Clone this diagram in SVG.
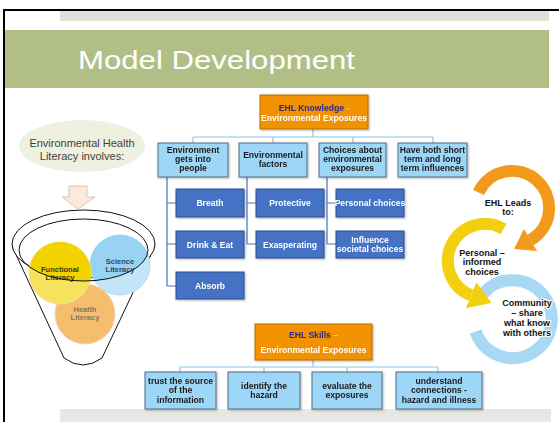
<svg xmlns="http://www.w3.org/2000/svg" width="559" height="422" viewBox="0 0 559 422">
  <style>
    .lbl { font-family: "Liberation Sans", Arial, sans-serif; font-weight: bold; font-size: 8.6px; text-anchor: middle; }
    .sm { font-size: 7.5px; }
    .dark { fill: #1a1a1a; }
    .white { fill: #ffffff; }
    .navy { fill: #2b2b8c; }
    .lb { fill: #9dd6f7; stroke: #4f6f86; stroke-width: 1; }
    .db { fill: #4472c4; stroke: #2f4f8f; stroke-width: 1; }
    .ob { fill: #f39200; stroke: #b86e00; stroke-width: 1; }
    .conn-lt { stroke: #8cc6e6; stroke-width: 1.2; fill: none; }
    .conn-dk { stroke: #4472c4; stroke-width: 1.2; fill: none; }
    .halo { stroke: #ffffff; stroke-width: 2.2; paint-order: stroke; stroke-linejoin: round; }
    .big { font-family: "Liberation Sans", Arial, sans-serif; font-weight: bold; font-size: 9px; text-anchor: middle; fill: #111; }
  </style>
  <defs>
    <clipPath id="funnelRim">
      <ellipse cx="83.5" cy="250" rx="64.5" ry="31"/>
    </clipPath>
    <filter id="sh" x="-10%" y="-10%" width="130%" height="140%">
      <feDropShadow dx="1" dy="1" stdDeviation="0.8" flood-color="#000" flood-opacity="0.3"/>
    </filter>
  </defs>

  <!-- page background and frame -->
  <rect x="0" y="0" width="559" height="422" fill="#ffffff"/>
  <line x1="4" y1="10" x2="559" y2="10" stroke="#000" stroke-width="2"/>
  <line x1="4" y1="9" x2="4" y2="422" stroke="#000" stroke-width="2"/>
  <rect x="60" y="11" width="489" height="10" fill="#dfe0d8"/>
  <rect x="5" y="30" width="544" height="58" fill="#b1bf86"/>
  <text x="78" y="69" font-family="Liberation Sans, Arial, sans-serif" font-size="26" fill="#ffffff" textLength="277" lengthAdjust="spacingAndGlyphs">Model Development</text>
  <rect x="60" y="409" width="491" height="13" fill="#e8e8e2"/>

  <!-- connectors -->
  <g id="connectors">
    <path class="conn-lt" d="M313 129V137M193 137H433M193 137V143M273 137V143M353 137V143M433 137V143"/>
    <path class="conn-dk" d="M167 177V286M167 203H176M167 244H176M167 286H176"/>
    <path class="conn-dk" d="M247 177V244M247 203H256M247 244H256"/>
    <path class="conn-dk" d="M327 177V244M327 203H336M327 244H336"/>
    <path class="conn-lt" d="M313 360V367M180 367H438M180 367V372M264 367V372M347 367V372M438 367V372"/>
  </g>

  <!-- knowledge tree -->
  <g id="ehl-knowledge" filter="url(#sh)">
    <rect class="ob" x="260" y="95" width="108" height="34"/>
    <text class="lbl" x="314" y="111"><tspan class="navy">EHL Knowledge</tspan><tspan fill="#f8c880"> -</tspan></text>
    <text class="lbl white" x="314" y="121">Environmental Exposures</text>
  </g>
  <g id="env-gets-into-people" filter="url(#sh)">
    <rect class="lb" x="158" y="143" width="70" height="34"/>
    <text class="lbl dark" x="193" y="153">Environment</text>
    <text class="lbl dark" x="193" y="162">gets into</text>
    <text class="lbl dark" x="193" y="171">people</text>
  </g>
  <g id="env-factors" filter="url(#sh)">
    <rect class="lb" x="239" y="143" width="68" height="34"/>
    <text class="lbl dark" x="273" y="158">Environmental</text>
    <text class="lbl dark" x="273" y="167">factors</text>
  </g>
  <g id="choices" filter="url(#sh)">
    <rect class="lb" x="319" y="143" width="67" height="34"/>
    <text class="lbl dark" x="352.5" y="153">Choices about</text>
    <text class="lbl dark" x="352.5" y="162">environmental</text>
    <text class="lbl dark" x="352.5" y="171">exposures</text>
  </g>
  <g id="short-long" filter="url(#sh)">
    <rect class="lb" x="398" y="143" width="69" height="34"/>
    <text class="lbl dark" x="432.5" y="153">Have both short</text>
    <text class="lbl dark" x="432.5" y="162">term and long</text>
    <text class="lbl dark" x="432.5" y="171">term influences</text>
  </g>
  <g id="breath" filter="url(#sh)">
    <rect class="db" x="176" y="189" width="68" height="28"/>
    <text class="lbl white" x="210" y="206">Breath</text>
  </g>
  <g id="drink-eat" filter="url(#sh)">
    <rect class="db" x="176" y="231" width="68" height="27"/>
    <text class="lbl white" x="210" y="247.5">Drink &amp; Eat</text>
  </g>
  <g id="absorb" filter="url(#sh)">
    <rect class="db" x="176" y="272" width="68" height="27"/>
    <text class="lbl white" x="210" y="288.5">Absorb</text>
  </g>
  <g id="protective" filter="url(#sh)">
    <rect class="db" x="256" y="189" width="68" height="28"/>
    <text class="lbl white" x="290" y="206">Protective</text>
  </g>
  <g id="exasperating" filter="url(#sh)">
    <rect class="db" x="256" y="231" width="68" height="27"/>
    <text class="lbl white" x="290" y="247.5">Exasperating</text>
  </g>
  <g id="personal-choices" filter="url(#sh)">
    <rect class="db" x="336" y="189" width="68" height="28"/>
    <text class="lbl white" x="370" y="206">Personal choices</text>
  </g>
  <g id="societal-choices" filter="url(#sh)">
    <rect class="db" x="336" y="231" width="68" height="27"/>
    <text class="lbl white" x="370" y="243">Influence</text>
    <text class="lbl white" x="370" y="252">societal choices</text>
  </g>

  <!-- skills tree -->
  <g id="ehl-skills" filter="url(#sh)">
    <rect class="ob" x="255" y="324" width="117" height="36"/>
    <text class="lbl" x="313.5" y="338"><tspan class="navy">EHL Skills</tspan><tspan fill="#f8c880"> –</tspan></text>
    <text class="lbl white" x="313.5" y="353">Environmental Exposures</text>
  </g>
  <g id="trust-source" filter="url(#sh)">
    <rect class="lb" x="145" y="372" width="71" height="37"/>
    <text class="lbl dark" x="180.5" y="384">trust the source</text>
    <text class="lbl dark" x="180.5" y="393">of the</text>
    <text class="lbl dark" x="180.5" y="403">information</text>
  </g>
  <g id="identify-hazard" filter="url(#sh)">
    <rect class="lb" x="228" y="372" width="72" height="37"/>
    <text class="lbl dark" x="264" y="389">identify the</text>
    <text class="lbl dark" x="264" y="398">hazard</text>
  </g>
  <g id="evaluate-exposures" filter="url(#sh)">
    <rect class="lb" x="312" y="372" width="70" height="37"/>
    <text class="lbl dark" x="347" y="389">evaluate the</text>
    <text class="lbl dark" x="347" y="398">exposures</text>
  </g>
  <g id="understand-connections" filter="url(#sh)">
    <rect class="lb" x="396" y="372" width="86" height="37"/>
    <text class="lbl dark" x="439" y="384">understand</text>
    <text class="lbl dark" x="439" y="393">connections -</text>
    <text class="lbl dark" x="439" y="403">hazard and illness</text>
  </g>

  <!-- literacy funnel -->
  <g id="ehl-involves">
    <ellipse cx="82" cy="146" rx="63" ry="26" fill="#eef1df"/>
    <text x="82" y="147" font-family="Liberation Sans, Arial, sans-serif" font-size="11" fill="#404040" text-anchor="middle">Environmental Health</text>
    <text x="82" y="160" font-family="Liberation Sans, Arial, sans-serif" font-size="11" fill="#404040" text-anchor="middle">Literacy involves:</text>
  </g>
  <g id="down-arrow">
    <path d="M69 186H87V197H95L78 209L62 197H69Z" fill="#fde8dc" stroke="#d9b8a8" stroke-width="0.8"/>
  </g>
  <g id="funnel">
    <path d="M12 246L64 358Q83 372 102 358L155 246" fill="#ffffff" stroke="#111" stroke-width="1"/>
    <ellipse cx="83.5" cy="244" rx="71.5" ry="34" fill="#ffffff" stroke="#111" stroke-width="1"/>
  </g>
  <g id="health-literacy">
    <circle cx="85" cy="314" r="30" fill="#f5be6c" stroke="#ecd9bf" stroke-width="1"/>
    <text class="lbl sm" x="85" y="312" fill="#8a7462">Health</text>
    <text class="lbl sm" x="85" y="320" fill="#8a7462">Literacy</text>
  </g>
  <g id="science-literacy">
    <circle cx="120" cy="265" r="30" fill="#c4e5f8" stroke="#b8d8ec" stroke-width="1"/>
    <circle cx="120" cy="265" r="30" fill="#98d3f4" clip-path="url(#funnelRim)"/>
    <text class="lbl sm" x="120" y="264" fill="#2c4560">Science</text>
    <text class="lbl sm" x="120" y="272" fill="#2c4560">Literacy</text>
  </g>
  <g id="functional-literacy">
    <circle cx="60" cy="273" r="31" fill="#f7e25e" stroke="#efe3a0" stroke-width="1"/>
    <circle cx="60" cy="273" r="31" fill="#f2d300" clip-path="url(#funnelRim)"/>
    <text class="lbl sm" x="60" y="272" fill="#3a3614">Functional</text>
    <text class="lbl sm" x="60" y="280" fill="#3a3614">Literacy</text>
  </g>
  <g id="funnel-rim">
    <ellipse cx="83.5" cy="250" rx="64.5" ry="31" fill="none" stroke="#111" stroke-width="1"/>
  </g>

  <!-- leads-to cycle -->
  <g id="community">
    <path d="M483.3 293.5A39 39 0 1 1 475.7 331.5" fill="none" stroke="#a8d8f4" stroke-width="12"/>
    <text class="big halo" x="527" y="306">Community</text>
    <text class="big halo" x="527" y="316">– share</text>
    <text class="big halo" x="527" y="326">what know</text>
    <text class="big halo" x="527" y="336">with others</text>
  </g>
  <g id="personal-informed">
    <path d="M503.5 229A37 37 0 1 0 471.1 295.3" fill="none" stroke="#f3d00f" stroke-width="12"/>
    <path d="M476.4 282.3L491.5 303L465.9 308.3Z" fill="#f3d00f"/>
    <text class="big halo" x="482" y="256">Personal –</text>
    <text class="big halo" x="482" y="265">informed</text>
    <text class="big halo" x="482" y="275">choices</text>
  </g>
  <g id="ehl-leads">
    <path d="M478.5 192.4A37 37 0 1 1 530.5 240" fill="none" stroke="#f39a1c" stroke-width="12"/>
    <path d="M524 229L514 249L537 251Z" fill="#f39a1c"/>
    <text class="big halo" x="508" y="206">EHL Leads</text>
    <text class="big halo" x="508" y="215">to:</text>
  </g>
</svg>
